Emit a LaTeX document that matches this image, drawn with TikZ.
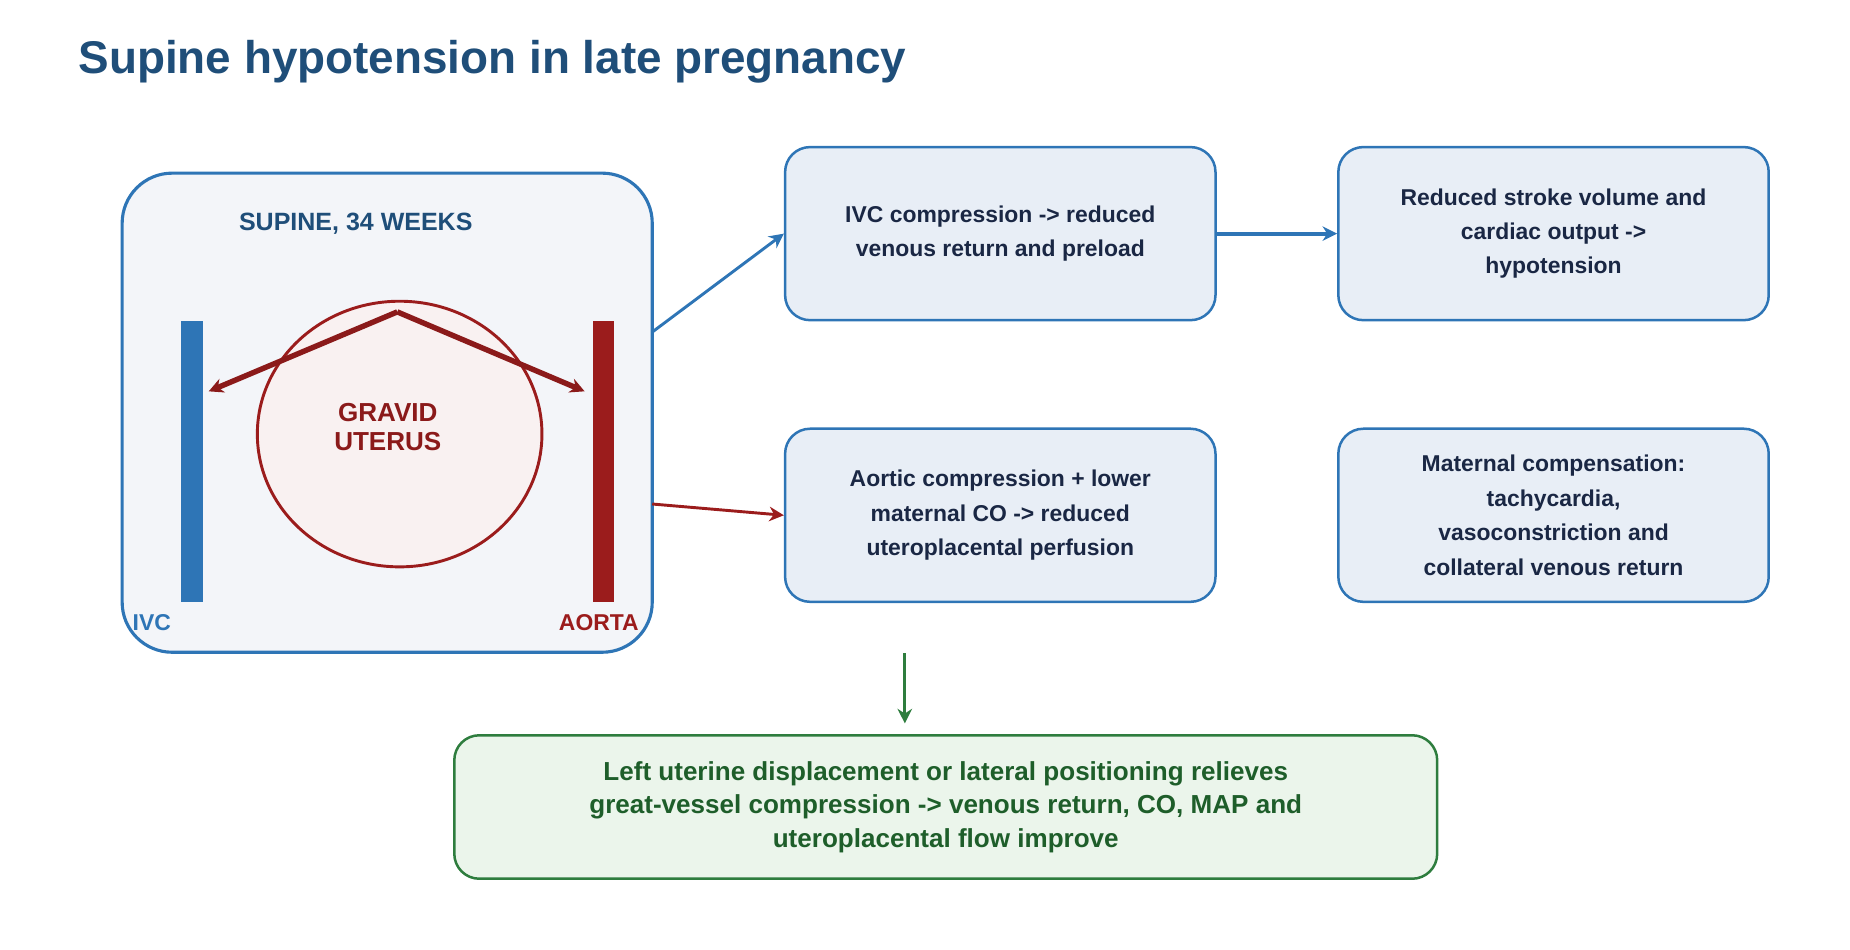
\documentclass[tikz,border=0pt]{standalone}
\usepackage{fontspec}
\setmainfont{Liberation Sans}
\usetikzlibrary{arrows.meta, positioning}
\definecolor{navy}{HTML}{1F4E79}
\definecolor{ink}{HTML}{1A2744}
\definecolor{ivcblue}{HTML}{2E75B6}
\definecolor{aortared}{HTML}{9B1C1C}
\definecolor{uterusred}{HTML}{8B1A1A}
\definecolor{boxfill}{HTML}{E8EEF6}
\definecolor{panelfill}{HTML}{F3F5F9}
\definecolor{greenline}{HTML}{2E7D3E}
\definecolor{greenfill}{HTML}{EBF5EB}
\definecolor{greentext}{HTML}{1E5E2A}
\tikzset{
  stepbox/.style = {draw=ivcblue, line width=1.2pt, fill=boxfill, rounded corners=12pt,
    minimum width=7.26cm, minimum height=2.92cm, align=center, text=ink,
    font=\fontsize{11}{16.5}\selectfont\bfseries},
  flow/.style = {-{Stealth[length=7pt,width=7pt]}, line width=1.4pt}
}
\begin{document}
\begin{tikzpicture}[x=0.02cm, y=-0.02cm]
\useasboundingbox (0,0) rectangle (1560,801);

% title
\node (title) at (60,52) [anchor=west, text=navy, font=\fontsize{22}{26}\selectfont\bfseries]
  {Supine hypotension in late pregnancy};

% supine panel
\draw[draw=ivcblue, line width=1.5pt, fill=panelfill, rounded corners=24pt] (103,146) rectangle (550,550);
\coordinate (panelE1) at (550,280);
\coordinate (panelE2) at (550,425);
\node (supine) at (300,189) [text=navy, font=\fontsize{12}{14}\selectfont\bfseries] {SUPINE, 34 WEEKS};
\fill[ivcblue] (153,271) rectangle (171,508);
\fill[aortared] (500,271) rectangle (518,508);
\node (ivc) at (128,525) [text=ivcblue, font=\fontsize{11}{13}\selectfont\bfseries] {IVC};
\node (aorta) at (505,525) [text=aortared, font=\fontsize{11}{13}\selectfont\bfseries] {AORTA};
\draw[aortared, line width=1.4pt, fill=aortared!6] (337,366) ellipse [x radius=120, y radius=112];
\node (uterus) at (327,360) [text=uterusred, align=center, font=\fontsize{12.5}{14}\selectfont\bfseries] {GRAVID\\UTERUS};
\coordinate (apex) at (335,263);
\coordinate (pushL) at (176,330);
\coordinate (pushR) at (493,330);
\draw[-{Stealth[length=7pt,width=7pt]}, line width=2.6pt, uterusred] (apex) -- (pushL);
\draw[-{Stealth[length=7pt,width=7pt]}, line width=2.6pt, uterusred] (apex) -- (pushR);

% steps
\node (ivcbox) at (843.5,197) [stepbox] {IVC compression -> reduced\\venous return and preload};
\node (sv) at (1310,197) [stepbox] {Reduced stroke volume and\\cardiac output ->\\hypotension};
\node (aortic) at (843.5,434.5) [stepbox] {Aortic compression + lower\\maternal CO -> reduced\\uteroplacental perfusion};
\node (comp) at (1310,434.5) [stepbox] {Maternal compensation:\\tachycardia,\\vasoconstriction and\\collateral venous return};
\node (relief) at (797.5,680.5) [draw=greenline, line width=1.2pt, fill=greenfill, rounded corners=12pt,
  minimum width=16.58cm, minimum height=2.42cm, align=center, text=greentext,
  font=\fontsize{12.5}{16}\selectfont\bfseries]
  {Left uterine displacement or lateral positioning relieves\\great-vessel compression -> venous return, CO, MAP and\\uteroplacental flow improve};

% connectors
\draw[flow, ivcblue] (panelE1) -- (ivcbox.west);
\draw[flow, ivcblue, line width=2pt] (ivcbox) -- (sv);
\draw[flow, aortared] (panelE2) -- (aortic.west);
\coordinate (drop) at (763,551);
\draw[flow, greenline] (drop) -- (763,610);
\end{tikzpicture}
\end{document}
